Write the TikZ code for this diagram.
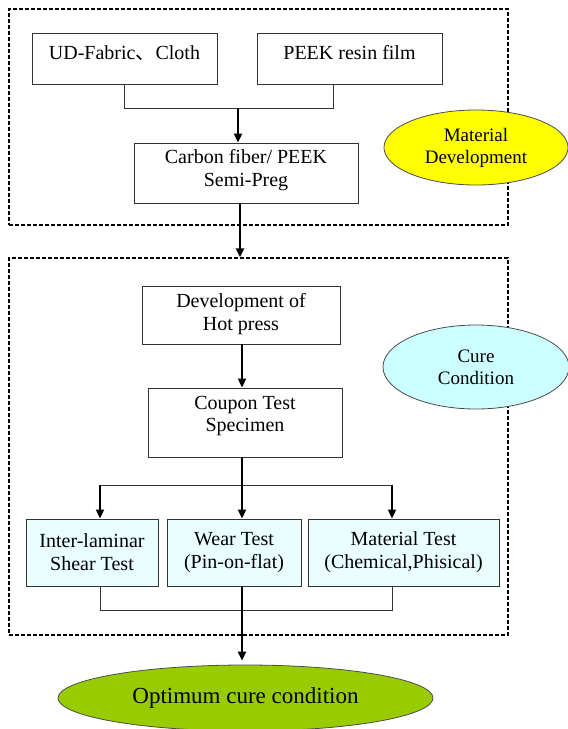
\documentclass[tikz,border=0pt]{standalone}
\usepackage{fontspec}
\setmainfont{Liberation Serif}
\newfontfamily\cjk{Noto Sans CJK SC}
\usetikzlibrary{arrows.meta,shapes.geometric}
\definecolor{testfill}{HTML}{E8FEFF}
\definecolor{curefill}{HTML}{CCFFFF}
\definecolor{matfill}{HTML}{FFFF00}
\definecolor{optfill}{HTML}{99CC00}
\begin{document}
\begin{tikzpicture}[x=1pt,y=-1pt,
  box/.style={draw=black!80, line width=0.9pt, inner sep=0pt},
  tbox/.style={box, fill=testfill},
  txt/.style={inner sep=0pt, align=center, font=\fontsize{20}{23}\selectfont},
  grp/.style={draw=black, dash pattern=on 4pt off 2pt, line width=1.3pt, inner sep=0pt},
  link/.style={draw=black!80, line width=0.9pt},
  flow/.style={line width=2pt, -{Triangle[width=8pt,length=9pt]}},
  oval/.style={ellipse, draw=black!70, line width=0.8pt, inner sep=0pt, align=center}]
\useasboundingbox (0,0) rectangle (568,729);
% group frames
\node[grp, minimum width=499, minimum height=216] (g1) at (258.5,117) {};
\node[grp, minimum width=499, minimum height=377] (g2) at (258.5,446.5) {};
% top group
\node[box, minimum width=185, minimum height=51] (ud) at (124.5,58.5) {};
\node[txt] (udt) at (124.5,53) {UD-Fabric{\cjk 、}Cloth};
\node[box, minimum width=185, minimum height=51] (peek) at (349.5,58.5) {};
\node[txt] (peekt) at (349.5,53) {PEEK resin film};
\node[box, minimum width=224, minimum height=60] (cf) at (246,173) {};
\node[txt] (cft) at (246,170) {Carbon fiber/ PEEK\\Semi-Preg};
\node[oval, fill=matfill, minimum width=184, minimum height=75,
      font=\fontsize{19}{22}\selectfont] (md) at (476,147.5) {Material\\Development};
% second group
\node[box, minimum width=198, minimum height=58] (dev) at (241,315) {};
\node[txt] (devt) at (241,314) {Development of\\Hot press};
\node[box, minimum width=194, minimum height=69] (cp) at (245,422.5) {};
\node[txt] (cpt) at (245,416) {Coupon Test\\Specimen};
\node[oval, fill=curefill, minimum width=186, minimum height=84,
      font=\fontsize{19}{22}\selectfont] (cure) at (476,367) {Cure\\Condition};
\node[tbox, minimum width=132, minimum height=67, txt] (ils) at (92,552.5) {Inter-laminar\\Shear Test};
\node[tbox, minimum width=134, minimum height=67, txt] (wt) at (234,552.5) {Wear Test\\(Pin-on-flat)};
\node[tbox, minimum width=191, minimum height=67, txt] (mt) at (403.5,552.5) {Material Test\\(Chemical,Phisical)};
% result
\node[oval, fill=optfill, minimum width=375, minimum height=66,
      font=\fontsize{23}{26}\selectfont] (opt) at (245.5,698) {Optimum cure condition};
% connectors
\draw[link] (ud.south) -- ++(0,24) coordinate (j1) -| ([xshift=-16.5pt]peek.south);
\coordinate (m1) at (238,108);
\draw[flow] (m1) -- (m1 |- cf.north);
\draw[flow] ([xshift=-6pt]cf.south) -- ([xshift=-6pt]cf.south |- g2.north);
\draw[flow] ([xshift=1pt]dev.south) -- ([xshift=1pt]dev.south |- cp.north);
\coordinate (br) at (242,485);
\draw[link] ([xshift=8pt]ils.north |- br) -- ([xshift=-11.5pt]mt.north |- br);
\draw[flow] ([xshift=-3pt]cp.south) -- ([xshift=8pt]wt.north);
\draw[flow] ([xshift=8pt]ils.north |- br) -- ([xshift=8pt]ils.north);
\draw[flow] ([xshift=-11.5pt]mt.north |- br) -- ([xshift=-11.5pt]mt.north);
\draw[link] ([xshift=8pt]ils.south) -- ++(0,24) -| ([xshift=-11.5pt]mt.south);
\draw[flow, shorten >=4pt] ([xshift=8pt]wt.south) -- ([xshift=8pt]wt.south |- opt.north);
\end{tikzpicture}
\end{document}
